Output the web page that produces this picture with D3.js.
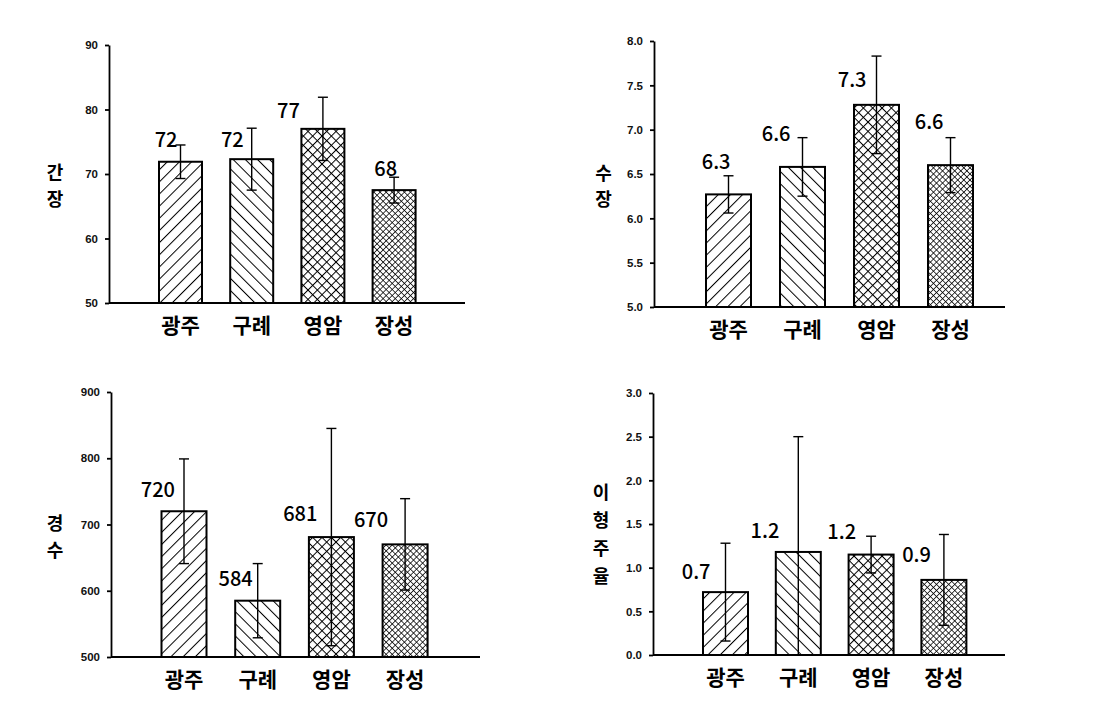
<!DOCTYPE html>
<html>
<head>
<meta charset="utf-8">
<style>
  body { margin: 0; background: #fff; }
  svg { display: block; }
  .tick text { font-family: "Liberation Sans", Arial, sans-serif; font-weight: bold; font-size: 11.5px; fill: #111; }
</style>
</head>
<body>
<svg id="chart" width="1118" height="709"></svg>
<script src="https://cdn.jsdelivr.net/npm/d3@7"></script>
<script>
// sites
var categories = ["광주", "구례", "영암", "장성"];

// 간장 (culm length)
var culmLength = [71.9, 72.3, 77.0, 67.5];
var culmLengthErr = [2.6, 4.8, 4.9, 2.0];
var culmLengthText = ["72", "72", "77", "68"];
var culmTicks = [50, 60, 70, 80, 90];

// 수장 (panicle length)
var panicleLength = [6.27, 6.58, 7.28, 6.60];
var panicleLengthErr = [0.21, 0.33, 0.55, 0.31];
var panicleLengthText = ["6.3", "6.6", "7.3", "6.6"];
var panicleTicks = [5.0, 5.5, 6.0, 6.5, 7.0, 7.5, 8.0];

// 경수 (tiller count)
var tillers = [720, 585, 681, 670];
var tillersErr = [79, 56, 164, 69];
var tillersText = ["720", "584", "681", "670"];
var tillerTicks = [500, 600, 700, 800, 900];

// 이형주율 (off-type rate)
var offType = [0.72, 1.18, 1.15, 0.86];
var offTypeErr = [0.56, 1.32, 0.21, 0.52];
var offTypeText = ["0.7", "1.2", "1.2", "0.9"];
var offTypeTicks = [0.0, 0.5, 1.0, 1.5, 2.0, 2.5, 3.0];

var svg = d3.select("#chart");

// hatch patterns, one per site
var defs = svg.append("defs");
function hatch(id, gap, angles, width) {
    var p = defs.append("pattern")
        .attr("id", id)
        .attr("patternUnits", "userSpaceOnUse")
        .attr("width", gap)
        .attr("height", gap)
        .attr("patternTransform", "rotate(" + angles[0] + ")");
    p.append("rect").attr("width", gap).attr("height", gap).attr("fill", "#fff");
    p.append("line").attr("x1", 0).attr("y1", 0).attr("x2", 0).attr("y2", gap)
        .attr("stroke", "#000").attr("stroke-width", width);
    if (angles.length > 1) {
        p.append("line").attr("x1", 0).attr("y1", 0).attr("x2", gap).attr("y2", 0)
            .attr("stroke", "#000").attr("stroke-width", width);
    }
}
hatch("h0", 8.6, [45], 2);
hatch("h1", 8.6, [-45], 2);
hatch("h2", 6.6, [45, -45], 2);
hatch("h3", 4.3, [45, -45], 1.5);
var fills = ["url(#h0)", "url(#h1)", "url(#h2)", "url(#h3)"];

var panels = [
    { vals: culmLength, err: culmLengthErr, text: culmLengthText, ticks: culmTicks, fmt: d3.format("d"),
      title: ["간", "장"], ax: 109, top: 45, bot: 303, xEnd: 465, c0: 180.5, step: 71.2, bw: 43,
      tx: 55, ty: 171, tstep: 27,
      nudge: [[-3, -15], [-8, -12], [-23, -11], [3, -14]] },
    { vals: panicleLength, err: panicleLengthErr, text: panicleLengthText, ticks: panicleTicks, fmt: d3.format(".1f"),
      title: ["수", "장"], ax: 654, top: 41, bot: 307, xEnd: 1005, c0: 728.5, step: 74, bw: 45,
      tx: 603.5, ty: 172, tstep: 26,
      nudge: [[2, -25], [-12, -26], [-10, -18], [-7, -36]] },
    { vals: tillers, err: tillersErr, text: tillersText, ticks: tillerTicks, fmt: d3.format("d"),
      title: ["경", "수"], ax: 111, top: 392, bot: 657, xEnd: 480, c0: 184, step: 73.7, bw: 45,
      tx: 55, ty: 522, tstep: 27,
      nudge: [[-9, -14], [-5, -15], [-14, -16], [-17, -17]] },
    { vals: offType, err: offTypeErr, text: offTypeText, ticks: offTypeTicks, fmt: d3.format(".1f"),
      title: ["이", "형", "주", "율"], ax: 653, top: 393, bot: 655, xEnd: 1005, c0: 725.5, step: 72.8, bw: 45,
      tx: 601, ty: 491, tstep: 28,
      nudge: [[-15, -13], [-19, -14], [-15, -16], [-13, -18]] }
];

panels.forEach(function(p) {
    var g = svg.append("g");
    var y = d3.scaleLinear()
        .domain([p.ticks[0], p.ticks[p.ticks.length - 1]])
        .range([p.bot, p.top]);
    var pad = 1 - p.bw / p.step;
    var x = d3.scaleBand()
        .domain(categories)
        .range([p.c0 - p.step / 2, p.c0 + p.step * (categories.length - 0.5)])
        .paddingInner(pad)
        .paddingOuter(pad / 2);

    // bars
    g.selectAll("rect.bar")
        .data(p.vals)
        .enter().append("rect")
        .attr("class", "bar")
        .attr("x", function(d, i) { return x(categories[i]); })
        .attr("y", function(d) { return y(d); })
        .attr("width", x.bandwidth())
        .attr("height", function(d) { return p.bot - y(d); })
        .attr("fill", function(d, i) { return fills[i]; })
        .attr("stroke", "#000")
        .attr("stroke-width", 2);

    // error bars
    var eb = g.selectAll("g.err")
        .data(p.vals)
        .enter().append("g")
        .attr("class", "err")
        .attr("stroke", "#000")
        .attr("stroke-width", 1.4);
    function cx(i) { return x(categories[i]) + x.bandwidth() / 2; }
    function hi(d, i) { return y(Math.min(d + p.err[i], y.domain()[1])); }
    function lo(d, i) { return y(Math.max(d - p.err[i], y.domain()[0])); }
    eb.append("line")
        .attr("x1", function(d, i) { return cx(i); })
        .attr("x2", function(d, i) { return cx(i); })
        .attr("y1", hi).attr("y2", lo);
    eb.append("line")
        .attr("x1", function(d, i) { return cx(i) - 5; })
        .attr("x2", function(d, i) { return cx(i) + 5; })
        .attr("y1", hi).attr("y2", hi);
    eb.append("line")
        .attr("x1", function(d, i) { return cx(i) - 5; })
        .attr("x2", function(d, i) { return cx(i) + 5; })
        .attr("y1", lo).attr("y2", lo);

    // value labels
    g.selectAll("text.val")
        .data(p.vals)
        .enter().append("text")
        .attr("class", "val")
        .attr("x", function(d, i) { return cx(i) + p.nudge[i][0]; })
        .attr("y", function(d, i) { return y(d) + p.nudge[i][1]; })
        .attr("text-anchor", "end")
        .style("font-family", "'Noto Sans CJK KR', 'Noto Sans', sans-serif")
        .style("font-weight", "500")
        .style("font-size", "20px")
        .style("fill", "#000")
        .text(function(d, i) { return p.text[i]; });

    // y axis
    var yAxis = d3.axisLeft(y)
        .tickValues(p.ticks)
        .tickFormat(p.fmt)
        .tickSize(4)
        .tickSizeOuter(0)
        .tickPadding(7);
    var ya = g.append("g")
        .attr("transform", "translate(" + p.ax + ",0)")
        .call(yAxis);
    ya.selectAll("path, line").attr("stroke", "#000").attr("stroke-width", 1.8);

    // x axis
    var xa = g.append("g")
        .attr("transform", "translate(0," + p.bot + ")")
        .call(d3.axisBottom(x).tickSize(0).tickPadding(13));
    xa.select(".domain")
        .attr("d", "M" + p.ax + ",0H" + p.xEnd)
        .attr("stroke", "#000").attr("stroke-width", 1.8);
    xa.selectAll("text")
        .attr("dy", "0.82em")
        .style("font-family", "'Noto Sans CJK KR', sans-serif")
        .style("font-weight", "bold")
        .style("font-size", "21px")
        .style("fill", "#000");

    // vertical y title
    g.selectAll("text.ytitle")
        .data(p.title)
        .enter().append("text")
        .attr("class", "ytitle")
        .attr("x", p.tx)
        .attr("y", function(d, i) { return p.ty + i * p.tstep; })
        .attr("text-anchor", "middle")
        .attr("dominant-baseline", "central")
        .style("font-family", "'Noto Sans CJK KR', sans-serif")
        .style("font-weight", "bold")
        .style("font-size", "18px")
        .style("fill", "#000")
        .text(function(d) { return d; });
});
</script>
</body>
</html>
